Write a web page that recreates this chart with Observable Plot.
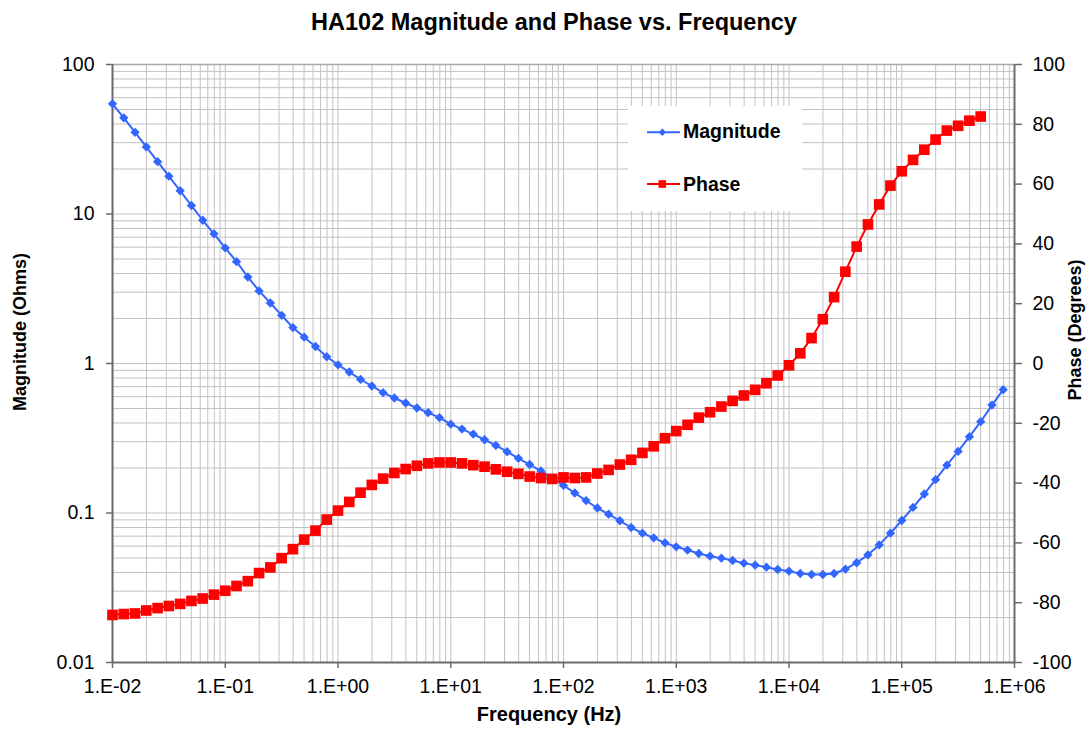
<!DOCTYPE html>
<html>
<head>
<meta charset="utf-8">
<script src="https://cdn.jsdelivr.net/npm/d3@7"></script>
<script src="https://cdn.jsdelivr.net/npm/@observablehq/plot@0.6"></script>
<style>
  body { margin: 0; background: #fff; font-family: "Liberation Sans", Arial, sans-serif; }
  #wrap { position: relative; width: 1090px; height: 729px; overflow: hidden; background: #fff; }
  #wrap > svg { position: absolute; left: 0; top: 0; }
  .txt { position: absolute; white-space: nowrap; color: #000; font-weight: bold; }
  .rot { transform: translate(-50%, -50%) rotate(-90deg); }
</style>
</head>
<body>
<div id="wrap"></div>
<script>
// ---- data ----
const chartTitle = "HA102 Magnitude and Phase vs. Frequency";
const xTitle = "Frequency (Hz)";
const yLeftTitle = "Magnitude (Ohms)";
const yRightTitle = "Phase (Degrees)";
const seriesNames = ["Magnitude", "Phase"];

const frequency = [
  0.01, 0.01259, 0.01585, 0.01995, 0.02512, 0.03162, 0.03981, 0.05012, 0.0631, 0.07943,
  0.1, 0.1259, 0.1585, 0.1995, 0.2512, 0.3162, 0.3981, 0.5012, 0.631, 0.7943,
  1, 1.259, 1.585, 1.995, 2.512, 3.162, 3.981, 5.012, 6.31, 7.943,
  10, 12.59, 15.85, 19.95, 25.12, 31.62, 39.81, 50.12, 63.1, 79.43,
  100, 125.9, 158.5, 199.5, 251.2, 316.2, 398.1, 501.2, 631, 794.3,
  1000, 1259, 1585, 1995, 2512, 3162, 3981, 5012, 6310, 7943,
  10000, 12590, 15850, 19950, 25120, 31620, 39810, 50120, 63100, 79430,
  100000, 125900, 158500, 199500, 251200, 316200, 398100, 501200, 631000, 794300
];

const magnitude = [
  54.6, 44.0, 35.2, 28.1, 22.4, 17.9, 14.3, 11.4, 9.08, 7.37,
  5.93, 4.80, 3.79, 3.06, 2.54, 2.10, 1.74, 1.50, 1.30, 1.11,
  0.98, 0.877, 0.783, 0.707, 0.638, 0.588, 0.544, 0.504, 0.469, 0.434,
  0.393, 0.364, 0.337, 0.309, 0.283, 0.257, 0.232, 0.211, 0.191, 0.171,
  0.153, 0.136, 0.121, 0.108, 0.0982, 0.0887, 0.080, 0.0733, 0.0682, 0.0632,
  0.0594, 0.0565, 0.0536, 0.0514, 0.0499, 0.0481, 0.0462, 0.0448, 0.0434, 0.0419,
  0.0408, 0.0394, 0.0388, 0.0388, 0.0394, 0.0421, 0.0465, 0.0525, 0.0612, 0.0733,
  0.0891, 0.109, 0.134, 0.167, 0.209, 0.258, 0.324, 0.408, 0.527, 0.668
];

const phase = [
  -84.1, -83.8, -83.6, -82.6, -81.8, -81.1, -80.4, -79.4, -78.6, -77.3,
  -76.0, -74.4, -72.8, -70.1, -68.2, -65.1, -62.1, -58.9, -55.9, -52.2,
  -49.2, -46.3, -43.2, -40.6, -38.5, -36.6, -35.3, -34.2, -33.4, -33.1,
  -33.1, -33.4, -34.0, -34.5, -35.4, -36.2, -36.9, -37.8, -38.3, -38.6,
  -38.1, -38.3, -38.1, -36.8, -35.6, -33.8, -32.2, -29.9, -27.7, -25.0,
  -22.6, -20.5, -18.1, -16.3, -14.4, -12.5, -10.7, -8.8, -6.6, -4.0,
  -0.6, 3.4, 8.5, 14.8, 22.2, 30.7, 39.1, 46.5, 53.2, 59.5,
  64.3, 68.1, 71.5, 74.9, 77.9, 79.5, 81.2, 82.6
];

const xTicks = [1e-2, 1e-1, 1e0, 1e1, 1e2, 1e3, 1e4, 1e5, 1e6];
const magTicks = [0.01, 0.1, 1, 10, 100];
const phaseTicks = [-100, -80, -60, -40, -20, 0, 20, 40, 60, 80, 100];

// ---- build tables ----
const magData = frequency.map((f, i) => ({f, v: magnitude[i]}));
const phaseData = phase.map((v, i) => ({f: frequency[i], v}));

// minor gridlines: 1..9 x each decade
const minorSteps = [1, 2, 3, 4, 5, 6, 7, 8, 9];
const xGrid = xTicks.slice(0, -1).flatMap(d => minorSteps.map(m => m * d)).concat([xTicks[xTicks.length - 1]]);
const yGrid = magTicks.slice(0, -1).flatMap(d => minorSteps.map(m => m * d)).concat([magTicks[magTicks.length - 1]]);

const W = 1090, H = 729;
const M = {marginLeft: 112, marginRight: 76, marginTop: 64, marginBottom: 67};
const font = "'Liberation Sans', Arial, sans-serif";
const blue = "#3366ff", red = "#ff0000", axisCol = "#6a6a6a", gridCol = "#c2c2c2";

const expFmt = d => {
  const e = Math.round(Math.log10(d));
  return "1.E" + (e < 0 ? "-" : "+") + String(Math.abs(e)).padStart(2, "0");
};

const magPlot = Plot.plot({
  width: W, height: H, ...M,
  style: {fontSize: "19.5px", fontFamily: font, color: "#000", background: "transparent", overflow: "visible"},
  x: {type: "log", domain: [xTicks[0], xTicks[xTicks.length - 1]]},
  y: {type: "log", domain: [magTicks[0], magTicks[magTicks.length - 1]]},
  marks: [
    Plot.gridX(xGrid, {stroke: gridCol, strokeOpacity: 1}),
    Plot.gridY(yGrid, {stroke: gridCol, strokeOpacity: 1}),
    Plot.ruleY([magTicks[magTicks.length - 1]], {stroke: "#a8a8a8", strokeWidth: 1.5}),
    Plot.axisX(xTicks, {tickFormat: expFmt, tickSize: 6, tickPadding: 11, label: null, stroke: axisCol, fill: "#000", strokeWidth: 1.5}),
    Plot.axisY(magTicks, {tickFormat: d => String(d), tickSize: 6, tickPadding: 12, label: null, stroke: axisCol, fill: "#000", strokeWidth: 1.5}),
    Plot.ruleX([xTicks[0]], {stroke: axisCol, strokeWidth: 2}),
    Plot.ruleY([magTicks[0]], {stroke: axisCol, strokeWidth: 2}),
    Plot.line(magData, {x: "f", y: "v", stroke: blue, strokeWidth: 2}),
    Plot.dot(magData, {x: "f", y: "v", symbol: "diamond2", r: 4.2, fill: blue})
  ]
});

const phasePlot = Plot.plot({
  width: W, height: H, ...M,
  style: {fontSize: "19.5px", fontFamily: font, color: "#000", background: "transparent", overflow: "visible"},
  x: {type: "log", domain: [xTicks[0], xTicks[xTicks.length - 1]], axis: null},
  y: {domain: [phaseTicks[0], phaseTicks[phaseTicks.length - 1]]},
  marks: [
    Plot.axisY(phaseTicks, {anchor: "right", tickFormat: d => String(d), tickSize: 7, tickPadding: 11, label: null, stroke: axisCol, fill: "#000", strokeWidth: 1.5}),
    Plot.ruleX([xTicks[xTicks.length - 1]], {stroke: axisCol, strokeWidth: 2}),
    Plot.line(phaseData, {x: "f", y: "v", stroke: red, strokeWidth: 2}),
    Plot.dot(phaseData, {x: "f", y: "v", symbol: "square", r: 6, fill: red})
  ]
});

const wrap = document.getElementById("wrap");
wrap.appendChild(magPlot);

// legend box (covers gridlines, sits under phase series)
const legend = document.createElement("div");
legend.style.cssText = "position:absolute;left:628px;top:106px;width:174px;height:105px;background:#fff;";
wrap.appendChild(legend);

const sw1 = document.createElement("div");
sw1.style.cssText = "position:absolute;left:646px;top:122px;width:36px;height:20px;";
sw1.innerHTML = `<svg width="36" height="20"><line x1="1" x2="34" y1="10.3" y2="10.3" stroke="${blue}" stroke-width="2"/><path d="M16.3,6.6L20,10.3L16.3,14L12.6,10.3Z" fill="${blue}"/></svg>`;
wrap.appendChild(sw1);
const sw2 = document.createElement("div");
sw2.style.cssText = "position:absolute;left:646px;top:174px;width:36px;height:20px;";
sw2.innerHTML = `<svg width="36" height="20"><line x1="1" x2="34" y1="10" y2="10" stroke="${red}" stroke-width="2"/><rect x="12.5" y="6.2" width="7.6" height="7.6" fill="${red}"/></svg>`;
wrap.appendChild(sw2);

function addText(text, css, cls) {
  const d = document.createElement("div");
  d.className = "txt" + (cls ? " " + cls : "");
  d.style.cssText = css;
  d.textContent = text;
  wrap.appendChild(d);
  return d;
}
addText(seriesNames[0], "left:683px;top:122px;font-size:19.5px;line-height:19.5px;");
addText(seriesNames[1], "left:683px;top:174.5px;font-size:19.5px;line-height:19.5px;");

wrap.appendChild(phasePlot);

addText(chartTitle, "left:554px;top:11px;transform:translateX(-50%);font-size:23.5px;line-height:23.5px;");
addText(xTitle, "left:549px;top:704px;transform:translateX(-50%);font-size:20px;line-height:20px;");
addText(yLeftTitle, "left:20px;top:332px;font-size:18px;line-height:18px;", "rot");
addText(yRightTitle, "left:1075px;top:330px;font-size:18px;line-height:18px;", "rot");
</script>
</body>
</html>
